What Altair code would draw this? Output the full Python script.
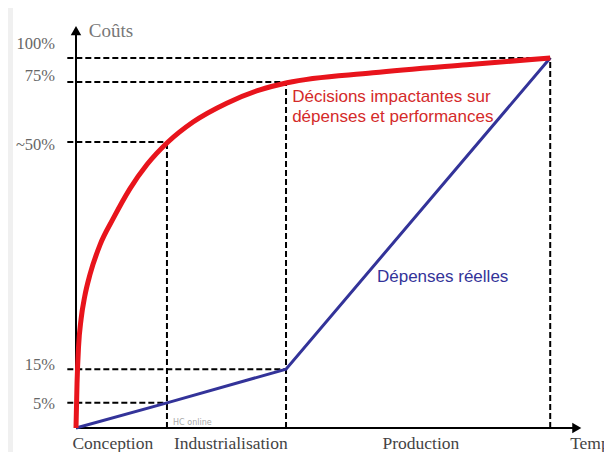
import altair as alt
import pandas as pd

# ---- data (x: time units 0-100, y: cost position units 0-110) ----
phases = ["Conception", "Industrialisation", "Production"]
phase_label_x = [7.2, 30.3, 67.5]
phase_end = [17.8, 41.1, 92.8]

red_x = [0, 0.2, 0.5, 1.0, 1.7, 2.74, 4.7, 7.24, 10.57, 13.89, 18.0, 22.9, 29.5, 36.0, 41.3, 58.1, 76.5, 92.8]
red_y = [0, 12, 22, 29.5, 35.5, 41.5, 49.5, 56.5, 64.7, 71.2, 77.3, 82.7, 87.8, 91.4, 93.3, 96.0, 98.2, 100]

blue_x = [0, 17.8, 41.1, 92.8]
blue_y = [0, 6.8, 15.9, 100]

ref_labels = ["100%", "75%", "~50%", "15%", "5%"]
ref_level = [100, 93.5, 77.3, 15.9, 6.8]
ref_label_y = [103.8, 95.1, 76.5, 17.0, 6.5]
ref_end_x = [92.8, 41.1, 17.8, 41.1, 17.8]

vert_x = [17.8, 41.1, 92.8]
vert_top = [77.3, 93.5, 100]

xs = alt.Scale(domain=[0, 100], nice=False, zero=False)
ys = alt.Scale(domain=[0, 110], nice=False, zero=False)

X = lambda f: alt.X(f, type="quantitative", scale=xs, axis=None)
Y = lambda f: alt.Y(f, type="quantitative", scale=ys, axis=None)

panel = alt.Chart(pd.DataFrame({"a": [0]})).mark_rect(color="white").encode(
    x=alt.value(-63), x2=alt.value(560), y=alt.value(-14), y2=alt.value(460)
)

hdash = pd.DataFrame({"x": [-1.7] * 5, "x2": ref_end_x, "y": ref_level})
hlines = alt.Chart(hdash).mark_rule(color="black", strokeWidth=2, strokeDash=[6, 3]).encode(
    x=X("x"), x2="x2", y=Y("y")
)
vdash = pd.DataFrame({"x": vert_x, "y": [0] * 3, "y2": vert_top})
vlines = alt.Chart(vdash).mark_rule(color="black", strokeWidth=2, strokeDash=[6, 3]).encode(
    x=X("x"), y=Y("y"), y2="y2"
)

axes_df = pd.DataFrame({"x": [0, 0], "x2": [0, 97.5], "y": [0, 0], "y2": [107, 0]})
axes = alt.Chart(axes_df).mark_rule(color="black", strokeWidth=2).encode(
    x=X("x"), x2="x2", y=Y("y"), y2="y2"
)

arrows_df = pd.DataFrame({"x": [0, 98.0], "y": [107.4, 0], "s": ["triangle-up", "triangle-right"]})
arrows = alt.Chart(arrows_df).mark_point(filled=True, color="black", opacity=1, size=110).encode(
    x=X("x"), y=Y("y"), shape=alt.Shape("s:N", scale=None, legend=None)
)

red = alt.Chart(pd.DataFrame({"x": red_x, "y": red_y})).mark_line(
    color="#e8141c", strokeWidth=5, interpolate="monotone"
).encode(x=X("x"), y=Y("y"))

blue = alt.Chart(pd.DataFrame({"x": blue_x, "y": blue_y})).mark_line(
    color="#333399", strokeWidth=3
).encode(x=X("x"), y=Y("y"))

ylab = alt.Chart(pd.DataFrame({"x": [-4.1] * 5, "y": ref_label_y, "t": ref_labels})).mark_text(
    align="right", baseline="middle", font="Liberation Serif", fontSize=16.5, color="#666666"
).encode(x=X("x"), y=Y("y"), text="t:N")

xlab_c = alt.Chart(pd.DataFrame({"x": phase_label_x, "y": [-4.3] * 3, "t": phases})).mark_text(
    align="center", baseline="middle", font="Liberation Serif", fontSize=17.5, color="#444444"
).encode(x=X("x"), y=Y("y"), text="t:N")
xlab_t = alt.Chart(pd.DataFrame({"x": [96.7], "y": [-4.3], "t": ["Temps"]})).mark_text(
    align="left", baseline="middle", font="Liberation Serif", fontSize=17.5, color="#444444"
).encode(x=X("x"), y=Y("y"), text="t:N")

couts = alt.Chart(pd.DataFrame({"x": [2.5], "y": [107.3], "t": ["Coûts"]})).mark_text(
    align="left", baseline="middle", font="Liberation Serif", fontSize=19, color="#777777"
).encode(x=X("x"), y=Y("y"), text="t:N")

wm = alt.Chart(pd.DataFrame({"x": [19.0], "y": [1.4], "t": ["HC online"]})).mark_text(
    align="left", baseline="middle", font="DejaVu Sans", fontSize=8, color="#aaaaaa"
).encode(x=X("x"), y=Y("y"), text="t:N")

red_txt = alt.Chart(pd.DataFrame({"x": [42.3, 42.3], "y": [89.5, 84.1],
                                  "t": ["Décisions impactantes sur", "dépenses et performances"]})).mark_text(
    align="left", baseline="middle", font="Liberation Sans", fontSize=17, color="#d42a2a"
).encode(x=X("x"), y=Y("y"), text="t:N")

blue_txt = alt.Chart(pd.DataFrame({"x": [58.9], "y": [40.8], "t": ["Dépenses réelles"]})).mark_text(
    align="left", baseline="middle", font="Liberation Sans", fontSize=17, color="#333399"
).encode(x=X("x"), y=Y("y"), text="t:N")

chart = alt.layer(
    panel, hlines, vlines, axes, arrows, blue, red, ylab, xlab_c, xlab_t, couts, wm, red_txt, blue_txt
).properties(
    width=511, height=407,
    autosize=alt.AutoSizeParams(type="none"),
    padding={"left": 68, "top": 13, "right": 17, "bottom": 24},
    background="#f0f0f0",
).configure_view(stroke=None)

chart.save("out.html", embed_options={"renderer": "svg", "actions": False})
